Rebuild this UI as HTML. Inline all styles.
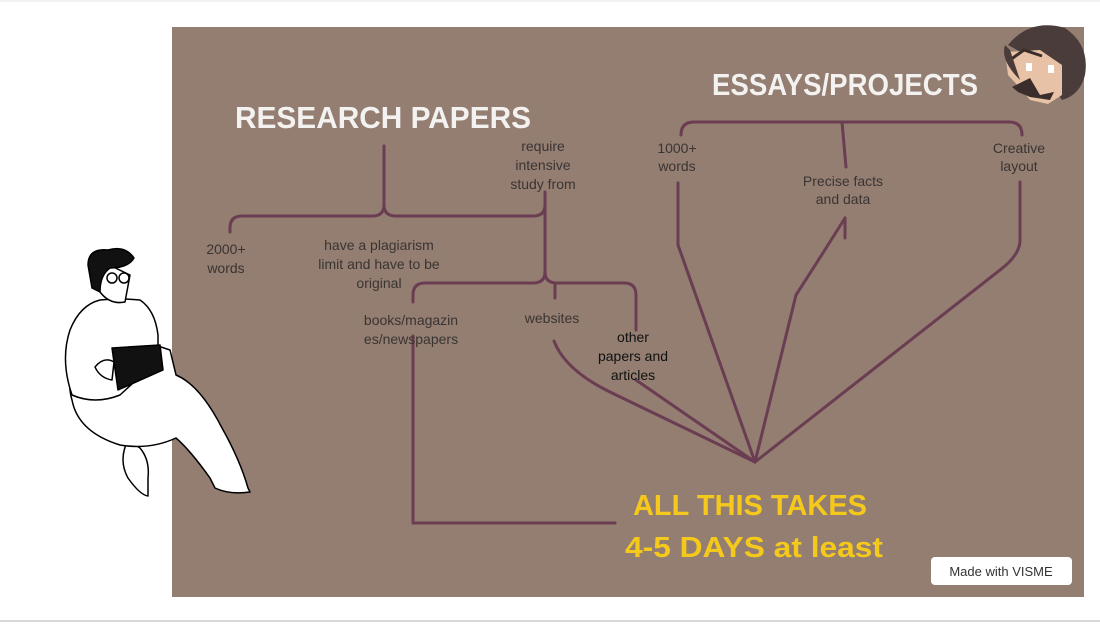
<!DOCTYPE html>
<html><head><meta charset="utf-8"><style>
html,body{margin:0;padding:0;background:#fff;width:1100px;height:624px;overflow:hidden}
svg{display:block}
</style></head><body>
<svg width="1100" height="624" viewBox="0 0 1100 624" xmlns="http://www.w3.org/2000/svg">
<rect x="0" y="0" width="1100" height="624" fill="#fff"/>
<line x1="0" y1="621" x2="1100" y2="621" stroke="#d8d8d8" stroke-width="2"/>
<line x1="0" y1="1" x2="1100" y2="1" stroke="#e6e6e6" stroke-width="1"/>
<rect x="172" y="27" width="912" height="570" fill="#937e71"/>

<g fill="none" stroke="#6b3d52" stroke-width="3" stroke-linecap="round" stroke-linejoin="round">
<!-- research papers brace -->
<path d="M384 146 V205 Q384 216 372 216 H242 Q230 216 230 228 V232"/>
<path d="M384 205 Q384 216 396 216 H533 Q545 216 545 205"/>
<path d="M545 192 V272 Q545 283 533 283 H425 Q413 283 413 295 V302"/>
<path d="M545 272 Q545 283 557 283 H624 Q636 283 636 295 V330"/>
<path d="M555 284 V298"/>
<!-- books line -->
<path d="M413 336 V523 H615"/>
<!-- websites line -->
<path d="M554 341 Q565 370 610 392 L755 462"/>
<path d="M636 380 L755 462"/>
<!-- essays brace -->
<path d="M681 135 Q681 122 694 122 H1009 Q1022 122 1022 135"/>
<path d="M842 122 L846 167"/>
<path d="M678 183 V245 L755 462"/>
<path d="M845 218 Q825 250 796 295 L755 462"/>
<path d="M845 218 V238"/>
<path d="M1020 182 V240 Q1020 255 1000 270 L755 462"/>
</g>

<g font-family="'Liberation Sans',sans-serif" fill="#f4f2f0" font-weight="bold" font-size="31">
<text x="235" y="128" textLength="296" lengthAdjust="spacingAndGlyphs">RESEARCH PAPERS</text>
<text x="712" y="95" textLength="266" lengthAdjust="spacingAndGlyphs">ESSAYS/PROJECTS</text>
</g>
<g font-family="'Liberation Sans',sans-serif" fill="#f5c91c" font-weight="bold" font-size="29">
<text x="633" y="515" textLength="234" lengthAdjust="spacingAndGlyphs">ALL THIS TAKES</text>
<text x="625" y="557" textLength="258" lengthAdjust="spacingAndGlyphs">4-5 DAYS at least</text>
</g>

<g font-family="'Liberation Sans',sans-serif" fill="#3a3433" font-size="14" text-anchor="middle">
<text x="226" y="254">2000+</text><text x="226" y="273">words</text>
<text x="379" y="250">have a plagiarism</text><text x="379" y="269">limit and have to be</text><text x="379" y="288">original</text>
<text x="543" y="151">require</text><text x="543" y="170">intensive</text><text x="543" y="189">study from</text>
<text x="411" y="325">books/magazin</text><text x="411" y="344">es/newspapers</text>
<text x="552" y="323">websites</text>
<text x="677" y="153">1000+</text><text x="677" y="171">words</text>
<text x="843" y="186">Precise facts</text><text x="843" y="204">and data</text>
<text x="1019" y="153">Creative</text><text x="1019" y="171">layout</text>
</g>
<g font-family="'Liberation Sans',sans-serif" fill="#111" font-size="14" text-anchor="middle">
<text x="633" y="342">other</text><text x="633" y="361">papers and</text><text x="633" y="380">articles</text>
</g>

<rect x="931" y="557" width="141" height="28" rx="4" fill="#fff"/>
<text x="1001" y="576" font-family="'Liberation Sans',sans-serif" font-size="13" fill="#333" text-anchor="middle">Made with VISME</text>

<!-- face top right -->
<g>
<path d="M1008 45 Q1030 18 1065 28 Q1090 45 1085 75 Q1080 95 1062 100 L1035 60 Z" fill="#4a3c3a"/>
<path d="M1005 52 L1040 50 L1062 65 L1062 95 L1048 104 L1030 100 L1020 88 L1008 75 Z" fill="#e8c2a6"/>
<path d="M1010 60 L1024 50 L1042 56" fill="none" stroke="#3a2d2b" stroke-width="3"/>
<rect x="1026" y="63" width="6" height="8" fill="#fff"/>
<rect x="1048" y="65" width="6" height="8" fill="#fff"/>
<path d="M1012 87 L1030 78 L1040 95 L1054 92 L1050 100 L1030 97 L1018 92 Z" fill="#3a2d2b"/>
<path d="M1005 45 Q1000 60 1020 80 L1010 50 Z" fill="#4a3c3a"/>
</g>

<!-- person left -->
<g stroke="#000" stroke-width="1.5" fill="#fff" stroke-linejoin="round">
<path d="M128 440 Q118 460 128 478 Q140 495 148 496 L148 478 Q150 460 140 448 Z"/>
<path d="M176 375 Q200 385 222 428 Q240 460 248 488 L250 492 Q230 495 215 488 L210 478 Q190 450 176 438 Q150 450 120 445 Q78 432 72 400 Q66 380 76 360 Q85 340 110 330 L170 350 Z"/>
<path d="M72 395 Q60 360 70 330 Q80 305 100 300 Q120 298 140 300 Q155 310 158 335 L158 360 L120 395 Q95 405 72 395 Z"/>
<path d="M112 348 L160 345 L163 370 L118 390 Z" fill="#111"/>
<path d="M95 367 Q104 356 114 362 L112 380 Q100 378 95 367 Z"/>
<path d="M103 262 Q95 275 100 292 Q110 305 125 302 L130 275 Z"/>
<path d="M88 265 Q88 248 108 250 Q125 245 134 258 Q128 268 110 268 Q100 275 100 292 L92 288 Z" fill="#111"/>
<circle cx="112" cy="278" r="5" fill="none"/><circle cx="124" cy="278" r="5" fill="none"/>
</g>
</svg>
</body></html>
